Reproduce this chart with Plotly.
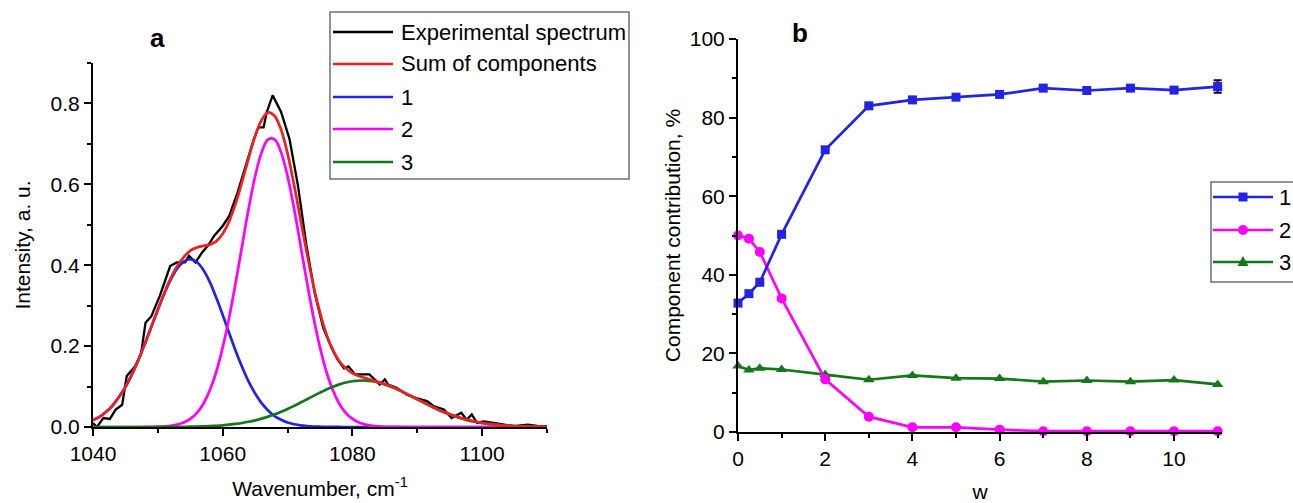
import plotly.graph_objects as go

W, H = 1293, 503

# ---------------- Panel a data ----------------
wn = list(range(1040, 1111))

comp1 = [0.017, 0.025, 0.037, 0.053, 0.074, 0.099, 0.130, 0.166, 0.206, 0.248,
         0.290, 0.330, 0.365, 0.392, 0.409, 0.415, 0.408, 0.389, 0.359, 0.320,
         0.277, 0.232, 0.188, 0.148, 0.112, 0.083, 0.059, 0.041, 0.027, 0.018,
         0.011, 0.0067, 0.0039, 0.0022, 0.0012, 0.0007, 0.0003, 0.0002, 0.0001,
         0, 0, 0, 0, 0, 0, 0, 0, 0, 0, 0, 0, 0, 0, 0, 0, 0, 0, 0, 0, 0, 0, 0, 0,
         0, 0, 0, 0, 0, 0, 0, 0]

comp2 = [0, 0, 0, 0, 0, 0, 0, 0,
         0.0001, 0.0003, 0.0006, 0.0014, 0.0029, 0.0058, 0.0109, 0.0199, 0.0345, 0.0570,
         0.0902, 0.136, 0.197, 0.271, 0.357, 0.449, 0.540, 0.620, 0.679, 0.711,
         0.711, 0.679, 0.620, 0.540, 0.449, 0.357, 0.271, 0.197, 0.136, 0.0902,
         0.0570, 0.0345, 0.0199, 0.0109, 0.0058, 0.0029, 0.0014, 0.0006, 0.0003, 0.0001,
         0, 0, 0, 0, 0, 0, 0, 0, 0, 0, 0, 0, 0, 0, 0, 0, 0, 0, 0, 0, 0, 0, 0]

comp3 = [0, 0, 0, 0, 0, 0, 0, 0, 0, 0,
         0.0001, 0.0002, 0.0002, 0.0003, 0.0005, 0.0008, 0.0011, 0.0016, 0.0022, 0.0031,
         0.0042, 0.0057, 0.0076, 0.0100, 0.0129, 0.0164, 0.0207, 0.0256, 0.0313, 0.0377,
         0.0447, 0.0523, 0.0604, 0.0686, 0.0769, 0.0850, 0.0927, 0.0995, 0.1054, 0.1100,
         0.1132, 0.1148, 0.1148, 0.1132, 0.1100, 0.1054, 0.0995, 0.0927, 0.0850, 0.0769,
         0.0686, 0.0604, 0.0523, 0.0447, 0.0377, 0.0313, 0.0256, 0.0207, 0.0164, 0.0129,
         0.0100, 0.0076, 0.0057, 0.0042, 0.0031, 0.0022, 0.0016, 0.0011, 0.0008, 0.0005,
         0.0003]

sum_comp = [0.017, 0.025, 0.037, 0.053, 0.074, 0.099, 0.130, 0.166, 0.206, 0.248,
            0.291, 0.332, 0.368, 0.398, 0.420, 0.436, 0.444, 0.448, 0.451, 0.459,
            0.478, 0.509, 0.553, 0.607, 0.665, 0.719, 0.759, 0.778, 0.769, 0.735,
            0.676, 0.599, 0.513, 0.428, 0.349, 0.283, 0.229, 0.190, 0.162, 0.145,
            0.133, 0.126, 0.121, 0.116, 0.111, 0.106, 0.0998, 0.0928, 0.0850, 0.0769,
            0.0686, 0.0604, 0.0523, 0.0447, 0.0377, 0.0313, 0.0256, 0.0207, 0.0164, 0.0129,
            0.0100, 0.0076, 0.0057, 0.0042, 0.0031, 0.0022, 0.0016, 0.0011, 0.0008, 0.0005,
            0.0003]

exp_x = [1040, 1040.6, 1041.6, 1042.6, 1043.5, 1044.5, 1045.2, 1046.5, 1047.4, 1048.1,
         1049, 1050.3, 1051.9, 1052.9, 1054.2, 1054.8, 1055.8, 1056.8, 1057.7, 1058.7,
         1060, 1061, 1062.3, 1063.9, 1064.8, 1065.5, 1066.3, 1066.8, 1067.7, 1069,
         1070.3, 1071.6, 1072.9, 1074.2, 1075.5, 1076.8, 1077.7, 1078.7, 1079.4, 1080.4,
         1081.6, 1082.6, 1083.4, 1084.2, 1085, 1085.5, 1086.8, 1088.4, 1089.7, 1091.5,
         1092.5, 1094.1, 1095.3, 1096.8, 1097.6, 1098.4, 1099.2, 1100.2, 1101.8, 1103.4,
         1104.9, 1107, 1108.5, 1110]
exp_y = [0.010, 0.0, 0.022, 0.020, 0.043, 0.055, 0.126, 0.150, 0.180, 0.258,
         0.274, 0.324, 0.398, 0.407, 0.407, 0.423, 0.407, 0.431, 0.448, 0.473,
         0.497, 0.522, 0.580, 0.663, 0.712, 0.741, 0.741, 0.779, 0.820, 0.779,
         0.712, 0.597, 0.450, 0.330, 0.245, 0.195, 0.167, 0.145, 0.150, 0.130,
         0.130, 0.130, 0.118, 0.105, 0.118, 0.105, 0.097, 0.080, 0.072, 0.064,
         0.052, 0.043, 0.022, 0.035, 0.018, 0.031, 0.010, 0.014, 0.010, 0.006,
         0.002, 0.006, 0.003, 0.002]

# ---------------- Panel b data ----------------
w_vals = [0, 0.25, 0.5, 1, 2, 3, 4, 5, 6, 7, 8, 9, 10, 11]
c1_pct = [32.8, 35.2, 38.1, 50.3, 71.8, 83.0, 84.5, 85.2, 85.9, 87.5, 86.9, 87.5, 87.0, 87.9]
c2_pct = [50.0, 49.2, 45.8, 34.0, 13.4, 3.9, 1.2, 1.2, 0.6, 0.2, 0.2, 0.2, 0.2, 0.2]
c3_pct = [16.8, 15.8, 16.2, 15.9, 14.6, 13.3, 14.4, 13.7, 13.6, 12.8, 13.1, 12.8, 13.2, 12.1]
c1_err = [0, 0, 0, 0, 0, 0, 0, 0, 0, 0, 0, 0, 0, 1.6]

names_a = ["Experimental spectrum", "Sum of components", "1", "2", "3"]
names_b = ["1", "2", "3"]

# ---------------- Styles ----------------
FONT = "Liberation Sans, Arial, sans-serif"
C_BLACK = "#000000"
C_RED = "#f02020"
C_BLUE = "#2323e6"
C_MAG = "#ff00ff"
C_GREEN = "#16761a"

fig = go.Figure()

fig.add_trace(go.Scatter(x=exp_x, y=exp_y, mode="lines", name=names_a[0],
                         line=dict(color=C_BLACK, width=2.3), xaxis="x", yaxis="y",
                         showlegend=False))
fig.add_trace(go.Scatter(x=wn, y=comp1, mode="lines", name=names_a[2],
                         line=dict(color=C_BLUE, width=2.7, shape="spline"),
                         xaxis="x", yaxis="y", showlegend=False))
fig.add_trace(go.Scatter(x=wn, y=comp2, mode="lines", name=names_a[3],
                         line=dict(color=C_MAG, width=2.7, shape="spline"),
                         xaxis="x", yaxis="y", showlegend=False))
fig.add_trace(go.Scatter(x=wn, y=comp3, mode="lines", name=names_a[4],
                         line=dict(color=C_GREEN, width=2.7, shape="spline"),
                         xaxis="x", yaxis="y", showlegend=False))
fig.add_trace(go.Scatter(x=wn, y=sum_comp, mode="lines", name=names_a[1],
                         line=dict(color=C_RED, width=2.7, shape="spline"),
                         xaxis="x", yaxis="y", showlegend=False))

fig.add_trace(go.Scatter(x=w_vals, y=c3_pct, mode="lines+markers", name=names_b[2],
                         line=dict(color=C_GREEN, width=2.7),
                         marker=dict(symbol="triangle-up", size=10, color=C_GREEN),
                         xaxis="x2", yaxis="y2", showlegend=False, cliponaxis=False))
fig.add_trace(go.Scatter(x=w_vals, y=c2_pct, mode="lines+markers", name=names_b[1],
                         line=dict(color=C_MAG, width=2.7),
                         marker=dict(symbol="circle", size=10, color=C_MAG),
                         xaxis="x2", yaxis="y2", showlegend=False, cliponaxis=False))
fig.add_trace(go.Scatter(x=w_vals, y=c1_pct, mode="lines+markers", name=names_b[0],
                         line=dict(color=C_BLUE, width=2.7),
                         marker=dict(symbol="square", size=9, color=C_BLUE),
                         error_y=dict(type="data", array=c1_err, visible=True,
                                      color=C_BLACK, thickness=2, width=4),
                         xaxis="x2", yaxis="y2", showlegend=False, cliponaxis=False))


def px(x):
    return x / W


def py(y):
    return 1 - y / H


axis_common = dict(showline=True, linecolor="black", linewidth=2, ticks="outside",
                   ticklen=7, tickwidth=2, tickcolor="black", showgrid=False,
                   zeroline=False, mirror=False, automargin=False,
                   tickfont=dict(family=FONT, size=21, color="black"),
                   minor=dict(ticks="outside", ticklen=4, tickwidth=2, tickcolor="black"))

fig.update_layout(
    width=W, height=H,
    margin=dict(l=0, r=0, t=0, b=0, autoexpand=False),
    paper_bgcolor="white", plot_bgcolor="white",
    font=dict(family=FONT, size=20, color="black"),
    showlegend=False,
    xaxis=dict(domain=[px(93), px(547)], range=[1040, 1110], anchor="y",
               tick0=1040, dtick=20, minor_dtick=10,
               title=dict(text="Wavenumber, cm<sup>-1</sup>", standoff=17,
                          font=dict(family=FONT, size=21)),
               **axis_common),
    yaxis=dict(domain=[py(427), py(63)], range=[0, 0.9], anchor="x",
               tick0=0, dtick=0.2, minor_dtick=0.1, tickformat=".1f",
               title=dict(text="Intensity, a. u.", standoff=14,
                          font=dict(family=FONT, size=21)),
               **axis_common),
    xaxis2=dict(domain=[px(738), px(1222)], range=[0, 11.1], anchor="y2",
                tick0=0, dtick=2, minor_dtick=1,
                title=dict(text="w", standoff=24, font=dict(family=FONT, size=21)),
                **axis_common),
    yaxis2=dict(domain=[py(432), py(39)], range=[0, 100], anchor="x2",
                tick0=0, dtick=20, minor_dtick=10,
                title=dict(text="Component contribution, %", standoff=3,
                           font=dict(family=FONT, size=21)),
                **axis_common),
)

shapes = []
annotations = []

# panel letters
annotations.append(dict(x=px(157), y=py(38), xref="paper", yref="paper", text="<b>a</b>",
                        showarrow=False, font=dict(family=FONT, size=26, color="black"),
                        xanchor="center", yanchor="middle"))
annotations.append(dict(x=px(800), y=py(33), xref="paper", yref="paper", text="<b>b</b>",
                        showarrow=False, font=dict(family=FONT, size=26, color="black"),
                        xanchor="center", yanchor="middle"))

# legend a (custom, to match long line samples)
shapes.append(dict(type="rect", xref="paper", yref="paper", x0=px(330), x1=px(629),
                   y0=py(179), y1=py(12), line=dict(color="#707070", width=1.5),
                   fillcolor="white", layer="above"))
cols_a = [C_BLACK, C_RED, C_BLUE, C_MAG, C_GREEN]
rows_a = [32, 64, 97, 129, 162]
for name, col, ry in zip(names_a, cols_a, rows_a):
    shapes.append(dict(type="line", xref="paper", yref="paper", x0=px(333), x1=px(393),
                       y0=py(ry), y1=py(ry), line=dict(color=col, width=2.6), layer="above"))
    annotations.append(dict(x=px(399), y=py(ry), xref="paper", yref="paper", text=name,
                            showarrow=False, xanchor="left", yanchor="middle",
                            font=dict(family=FONT, size=22, color="black")))

# legend b
shapes.append(dict(type="rect", xref="paper", yref="paper", x0=px(1211), x1=px(1300),
                   y0=py(282), y1=py(182), line=dict(color="#707070", width=1.5),
                   fillcolor="white", layer="above"))
cols_b = [C_BLUE, C_MAG, C_GREEN]
rows_b = [197, 230, 262]
mx = 1243
for i, (name, col, ry) in enumerate(zip(names_b, cols_b, rows_b)):
    shapes.append(dict(type="line", xref="paper", yref="paper", x0=px(1213), x1=px(1273),
                       y0=py(ry), y1=py(ry), line=dict(color=col, width=2.6), layer="above"))
    if i == 0:
        shapes.append(dict(type="rect", xref="paper", yref="paper", x0=px(mx - 4.5),
                           x1=px(mx + 4.5), y0=py(ry + 4.5), y1=py(ry - 4.5),
                           fillcolor=col, line=dict(color=col, width=0), layer="above"))
    elif i == 1:
        shapes.append(dict(type="circle", xref="paper", yref="paper", x0=px(mx - 5),
                           x1=px(mx + 5), y0=py(ry + 5), y1=py(ry - 5),
                           fillcolor=col, line=dict(color=col, width=0), layer="above"))
    else:
        path = "M {:.5f},{:.5f} L {:.5f},{:.5f} L {:.5f},{:.5f} Z".format(
            px(mx - 5.5), py(ry + 4), px(mx + 5.5), py(ry + 4), px(mx), py(ry - 6))
        shapes.append(dict(type="path", xref="paper", yref="paper", path=path,
                           fillcolor=col, line=dict(color=col, width=0), layer="above"))
    annotations.append(dict(x=px(1277), y=py(ry), xref="paper", yref="paper", text=name,
                            showarrow=False, xanchor="left", yanchor="middle",
                            font=dict(family=FONT, size=22, color="black")))

fig.update_layout(shapes=shapes, annotations=annotations)

fig.write_html("out.html",
               config={"displayModeBar": False, "staticPlot": True},
               post_script="document.body.style.margin='0px';"
                           "document.body.style.padding='0px';"
                           "document.body.style.overflow='hidden';")
